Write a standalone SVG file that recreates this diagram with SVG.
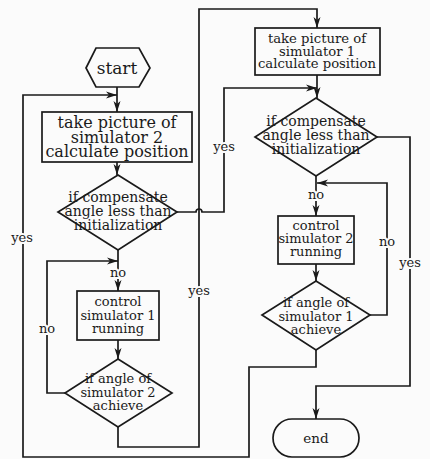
<svg xmlns="http://www.w3.org/2000/svg" width="430" height="459" viewBox="0 0 430 459">
<style>
.s{fill:none;stroke:#1a1a1a;stroke-width:1.7}
.n{fill:#fbfbfb;stroke:#1a1a1a;stroke-width:1.7}
text{font-family:"DejaVu Serif","Liberation Serif",serif;fill:#1a1a1a;text-anchor:middle}
.b1{font-size:16px}
.b2{font-size:13.2px}
.d{font-size:14px}
.m{font-size:13px}
.l{font-size:13px;stroke:#fbfbfb;stroke-width:4;paint-order:stroke}
</style>
<defs>
<marker id="a" markerUnits="userSpaceOnUse" markerWidth="12" markerHeight="8" refX="11" refY="4" orient="auto">
<path d="M0,0.5 L11,4 L0,7.5 L3,4 z" fill="#1a1a1a"/>
</marker>
</defs>
<rect width="430" height="459" fill="#fbfbfb"/>
<g id="connectors">
<path class="s" d="M117,87 V112" marker-end="url(#a)"/>
<path class="s" d="M117,162 V175" marker-end="url(#a)"/>
<path class="s" d="M118,250 V291" marker-end="url(#a)"/>
<path class="s" d="M65,393 H47 V261 H118" marker-end="url(#a)"/>
<path class="s" d="M118,340 V359" marker-end="url(#a)"/>
<path class="s" d="M118,427 V447 H199 V9 H317 V28" marker-end="url(#a)"/>
<path class="s" d="M177,212 H196 A3,3 0 0 1 202,212 H224 V88 H317" marker-end="url(#a)"/>
<path class="s" d="M317,75 V98" marker-end="url(#a)"/>
<path class="s" d="M316,176 V216" marker-end="url(#a)"/>
<path class="s" d="M316,264 V281" marker-end="url(#a)"/>
<path class="s" d="M370,315 H387 V183 H317" marker-end="url(#a)"/>
<path class="s" d="M316,350 V367 H249 V457 H23 V95 H117" marker-end="url(#a)"/>
<path class="s" d="M377,137 H410 V386 H316 V419" marker-end="url(#a)"/>
<text class="l" x="118" y="277">no</text>
<text class="l" x="47" y="333">no</text>
<text class="l" x="199" y="295">yes</text>
<text class="l" x="224" y="151">yes</text>
<text class="l" x="22" y="242">yes</text>
<text class="l" x="316" y="199">no</text>
<text class="l" x="387" y="246">no</text>
<text class="l" x="410" y="267">yes</text>
</g>
<g id="start">
<polygon class="n" points="86,68 96,48 139,48 150,68 139,87 96,87"/>
<text x="117" y="74" style="font-size:17px">start</text>
</g>
<g id="box1">
<rect class="n" x="42" y="112" width="150" height="50"/>
<text class="b1" x="117" y="128">take picture of</text>
<text class="b1" x="117" y="143">simulator 2</text>
<text class="b1" x="117" y="157">calculate position</text>
</g>
<g id="dec1">
<polygon class="n" points="118,175 177,212 118,250 58,212"/>
<text class="d" x="118" y="202">if compensate</text>
<text class="d" x="118" y="216">angle less than</text>
<text class="d" x="118" y="230">initialization</text>
</g>
<g id="box4">
<rect class="n" x="77" y="291" width="82" height="49"/>
<text class="m" x="118" y="306">control</text>
<text class="m" x="118" y="320">simulator 1</text>
<text class="m" x="118" y="333">running</text>
</g>
<g id="dec5">
<polygon class="n" points="118,359 172,393 118,427 65,393"/>
<text class="m" x="118" y="383">if angle of</text>
<text class="m" x="118" y="397">simulator 2</text>
<text class="m" x="118" y="410">achieve</text>
</g>
<g id="box2">
<rect class="n" x="255" y="28" width="125" height="47"/>
<text class="b2" x="317" y="43">take picture of</text>
<text class="b2" x="317" y="56">simulator 1</text>
<text class="b2" x="317" y="68">calculate position</text>
</g>
<g id="dec2">
<polygon class="n" points="316,98 377,137 316,176 255,137"/>
<text class="d" x="316" y="126">if compensate</text>
<text class="d" x="316" y="140">angle less than</text>
<text class="d" x="316" y="154">initialization</text>
</g>
<g id="box3">
<rect class="n" x="278" y="216" width="76" height="48"/>
<text class="m" x="316" y="230">control</text>
<text class="m" x="316" y="243">simulator 2</text>
<text class="m" x="316" y="256">running</text>
</g>
<g id="dec4">
<polygon class="n" points="316,281 370,315 316,350 262,315"/>
<text class="m" x="316" y="307">if angle of</text>
<text class="m" x="316" y="321">simulator 1</text>
<text class="m" x="316" y="334">achieve</text>
</g>
<g id="end">
<rect class="n" x="273" y="419" width="86" height="38" rx="19"/>
<text x="316" y="443" style="font-size:13.5px">end</text>
</g>
</svg>
